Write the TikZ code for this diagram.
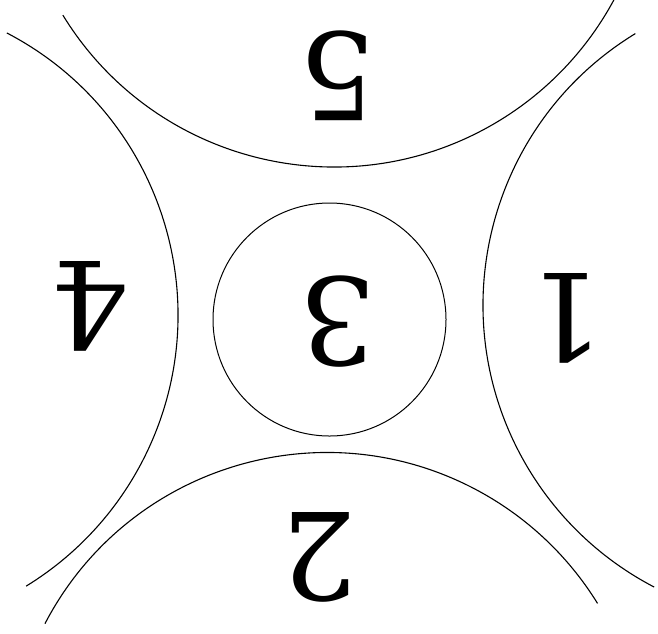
\documentclass[tikz,border=0pt]{standalone}
\usepackage{fontspec}
\newfontfamily\digitfont{DejaVu Serif}
\tikzset{
  rim/.style={draw=black, line width=1.1pt},
  hub/.style={draw=black, line width=1pt},
  num/.style={rotate=180, inner sep=0pt, font=\digitfont\fontsize{121}{121}\selectfont}
}

\begin{document}
\begin{tikzpicture}[x=1pt, y=-1pt]
\useasboundingbox (0,0) rectangle (658,633);
% four outer arcs, same radius
\draw[rim] (334,-151) ++(148.5:318) arc[start angle=148.5, end angle=28.3, radius=318];
\draw[rim] (327,770.5) ++(207.5:318) arc[start angle=207.5, end angle=328.3, radius=318];
\draw[rim] (-140,315) ++(-62.5:318) arc[start angle=-62.5, end angle=58.5, radius=318];
\draw[rim] (801,305) ++(238.6:318) arc[start angle=238.6, end angle=117.5, radius=318];
% middle circle
\draw[hub] (329.5,319.5) circle[radius=116.5];
\node[num] (n1) at (566,318) {1};
\node[num] (n2) at (319,557) {2};
\node[num] (n3) at (338,322) {3};
\node[num] (n4) at (90,306) {4};
\node[num] (n5) at (338,76) {5};
\end{tikzpicture}
\end{document}
